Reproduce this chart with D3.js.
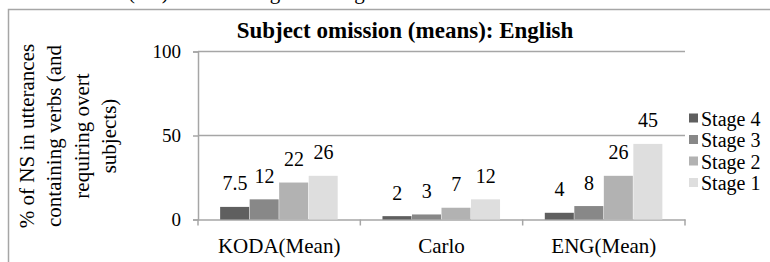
<!DOCTYPE html>
<html>
<head>
<meta charset="utf-8">
<script src="https://cdn.jsdelivr.net/npm/d3@7"></script>
<style>
  body { margin: 0; background: #fff; }
</style>
</head>
<body>
<div id="chart"></div>
<script>
var categories = ["KODA(Mean)", "Carlo", "ENG(Mean)"];
var stages = ["Stage 4", "Stage 3", "Stage 2", "Stage 1"];
var stage4 = [7.5, 2, 4];
var stage3 = [12, 3, 8];
var stage2 = [22, 7, 26];
var stage1 = [26, 12, 45];
var yTicks = [0, 50, 100];
var yTitleLines = ["% of NS in utterances", "containing verbs (and", "requiring overt", "subjects)"];

var series = [stage4, stage3, stage2, stage1];
var colors = ["#5f5f5f", "#888888", "#b2b2b2", "#dedede"];
var gray = "#a6a6a6";
var serif = "Liberation Serif, Tinos, Times New Roman, DejaVu Serif, serif";

var width = 770, height = 262;
var svg = d3.select("#chart").append("svg")
    .attr("width", width).attr("height", height)
    .attr("font-family", serif);

// cut-off caption line above the chart frame
svg.append("text")
    .attr("x", 128).attr("y", -1)
    .attr("font-family", serif)
    .attr("font-size", 21)
    .text("(NS) in mean English ratings");

// chart frame (runs off the right and bottom edges)
svg.append("rect")
    .attr("x", 8.5).attr("y", 9.5)
    .attr("width", 900).attr("height", 400)
    .attr("fill", "#fff")
    .attr("stroke", gray).attr("stroke-width", 1.5);

var x0 = d3.scaleBand().domain(categories).range([198, 685]);
var x1 = d3.scaleBand().domain(stages).range([0, x0.bandwidth()])
    .paddingInner(0).paddingOuter(0.75);
var y = d3.scaleLinear().domain([0, 100]).range([219.5, 51.5]);

// title
svg.append("text")
    .attr("x", 405).attr("y", 38)
    .attr("text-anchor", "middle")
    .attr("font-family", serif)
    .attr("font-size", 23).attr("font-weight", "bold")
    .text("Subject omission (means): English");

// gridlines
svg.append("g").selectAll("line")
    .data(yTicks.filter(function (d) { return d > 0; }))
    .enter().append("line")
    .attr("x1", 198).attr("x2", 685)
    .attr("y1", function (d) { return y(d); })
    .attr("y2", function (d) { return y(d); })
    .attr("stroke", gray).attr("stroke-width", 1.5);

// y axis
var yAxis = svg.append("g")
    .attr("transform", "translate(198,0)")
    .call(d3.axisLeft(y).tickValues(yTicks).tickSize(5).tickPadding(12));
yAxis.attr("font-family", serif).attr("font-size", 19);
yAxis.select(".domain").attr("stroke", gray).attr("stroke-width", 1.5);
yAxis.selectAll(".tick line").attr("stroke", gray).attr("stroke-width", 1.5);

// x axis
var xAxis = svg.append("g")
    .attr("transform", "translate(0," + y(0) + ")")
    .call(d3.axisBottom(x0).tickSize(0).tickPadding(19));
xAxis.attr("font-family", serif).attr("font-size", 21);
xAxis.select(".domain").attr("stroke", gray).attr("stroke-width", 1.5);
// tick marks between categories
var bounds = categories.map(function (c) { return x0(c); }).concat([x0.range()[1]]);
xAxis.selectAll(".sep").data(bounds).enter().append("line")
    .attr("x1", function (d) { return d; }).attr("x2", function (d) { return d; })
    .attr("y1", 0).attr("y2", 6)
    .attr("stroke", gray).attr("stroke-width", 1.5);

// bars
var groups = svg.append("g").selectAll("g")
    .data(categories)
    .enter().append("g")
    .attr("transform", function (d) { return "translate(" + x0(d) + ",0)"; });

groups.selectAll("rect")
    .data(function (d, i) {
        return stages.map(function (s, j) { return { stage: s, value: series[j][i], color: colors[j] }; });
    })
    .enter().append("rect")
    .attr("x", function (d) { return x1(d.stage); })
    .attr("width", x1.bandwidth() - 0.5)
    .attr("y", function (d) { return y(d.value); })
    .attr("height", function (d) { return y(0) - y(d.value); })
    .attr("fill", function (d) { return d.color; });

groups.selectAll("text")
    .data(function (d, i) {
        return stages.map(function (s, j) { return { stage: s, value: series[j][i] }; });
    })
    .enter().append("text")
    .attr("x", function (d) { return x1(d.stage) + x1.bandwidth() / 2; })
    .attr("y", function (d) { return y(d.value) - 16.5; })
    .attr("text-anchor", "middle")
    .attr("font-family", serif)
    .attr("font-size", 20)
    .text(function (d) { return d.value; });

// y axis title
var yTitle = svg.append("text")
    .attr("transform", "translate(75,136) rotate(-90)")
    .attr("text-anchor", "middle")
    .attr("font-family", serif)
    .attr("font-size", 21);
yTitle.selectAll("tspan")
    .data(yTitleLines)
    .enter().append("tspan")
    .attr("x", 0)
    .attr("y", function (d, i) { return (i - 1.5) * 27.5; })
    .text(function (d) { return d; });

// legend
var legend = svg.append("g").selectAll("g")
    .data(stages)
    .enter().append("g")
    .attr("transform", function (d, i) { return "translate(689," + (118.5 + i * 21.5) + ")"; });
legend.append("rect")
    .attr("x", 0).attr("y", -5).attr("width", 9).attr("height", 9)
    .attr("fill", function (d, i) { return colors[i]; });
legend.append("text")
    .attr("x", 12).attr("y", 7)
    .attr("font-family", serif)
    .attr("font-size", 20)
    .text(function (d) { return d; });
</script>
</body>
</html>
